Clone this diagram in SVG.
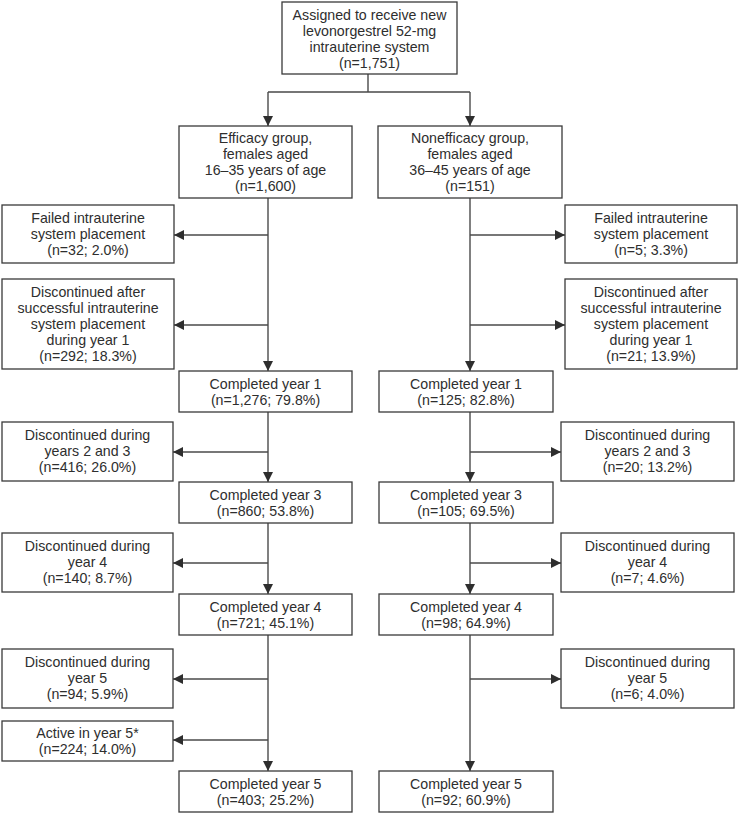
<svg xmlns="http://www.w3.org/2000/svg" width="738" height="813" viewBox="0 0 738 813">
<style>
.b{fill:#fff;stroke:#3a3a3a;stroke-width:1.3}
.t{font-family:"Liberation Sans",Arial,sans-serif;font-size:14.2px;fill:#2e2e2e;text-anchor:middle}
.c{fill:none;stroke:#4a4a4a;stroke-width:1.4}
</style>
<defs>
<marker id="ah" viewBox="0 0 10 10" refX="10" refY="5" markerWidth="10" markerHeight="10" markerUnits="userSpaceOnUse" orient="auto"><path d="M0,0 L10,5 L0,10 z" fill="#2e2e2e"/></marker>
</defs>
<rect width="738" height="813" fill="#fff"/>
<g id="connectors">
<path class="c" d="M368,74 V92 M268,92 H470"/>
<path class="c" d="M268,92 V126" marker-end="url(#ah)"/>
<path class="c" d="M470,92 V126" marker-end="url(#ah)"/>
<path class="c" d="M268,198 V371" marker-end="url(#ah)"/>
<path class="c" d="M268,235 H174" marker-end="url(#ah)"/>
<path class="c" d="M268,325 H174" marker-end="url(#ah)"/>
<path class="c" d="M268,412 V482" marker-end="url(#ah)"/>
<path class="c" d="M268,452 H173" marker-end="url(#ah)"/>
<path class="c" d="M268,523 V594" marker-end="url(#ah)"/>
<path class="c" d="M268,563 H173" marker-end="url(#ah)"/>
<path class="c" d="M268,635 V771" marker-end="url(#ah)"/>
<path class="c" d="M268,679 H173" marker-end="url(#ah)"/>
<path class="c" d="M268,740 H173" marker-end="url(#ah)"/>
<path class="c" d="M470,198 V371" marker-end="url(#ah)"/>
<path class="c" d="M470,235 H565" marker-end="url(#ah)"/>
<path class="c" d="M470,325 H565" marker-end="url(#ah)"/>
<path class="c" d="M470,412 V482" marker-end="url(#ah)"/>
<path class="c" d="M470,452 H561" marker-end="url(#ah)"/>
<path class="c" d="M470,523 V594" marker-end="url(#ah)"/>
<path class="c" d="M470,563 H561" marker-end="url(#ah)"/>
<path class="c" d="M470,635 V771" marker-end="url(#ah)"/>
<path class="c" d="M470,679 H561" marker-end="url(#ah)"/>
</g>
<g id="top"><rect class="b" x="282" y="2" width="175" height="72"/>
<text class="t" x="369.5" y="20">Assigned to receive new</text><text class="t" x="369.5" y="36">levonorgestrel 52-mg</text><text class="t" x="369.5" y="52">intrauterine system</text><text class="t" x="369.5" y="68">(n=1,751)</text></g>
<g id="efficacy"><rect class="b" x="179" y="126" width="173" height="72"/>
<text class="t" x="265.5" y="143">Efficacy group,</text><text class="t" x="265.5" y="159">females aged</text><text class="t" x="265.5" y="175">16–35 years of age</text><text class="t" x="265.5" y="191">(n=1,600)</text></g>
<g id="nonefficacy"><rect class="b" x="378" y="126" width="184" height="72"/>
<text class="t" x="470" y="143">Nonefficacy group,</text><text class="t" x="470" y="159">females aged</text><text class="t" x="470" y="175">36–45 years of age</text><text class="t" x="470" y="191">(n=151)</text></g>
<g id="failedL"><rect class="b" x="2" y="205" width="172" height="58"/>
<text class="t" x="88" y="223">Failed intrauterine</text><text class="t" x="88" y="239">system placement</text><text class="t" x="88" y="255">(n=32; 2.0%)</text></g>
<g id="discL1"><rect class="b" x="2" y="279" width="172" height="90"/>
<text class="t" x="88" y="297">Discontinued after</text><text class="t" x="88" y="313">successful intrauterine</text><text class="t" x="88" y="329">system placement</text><text class="t" x="88" y="345">during year 1</text><text class="t" x="88" y="361">(n=292; 18.3%)</text></g>
<g id="compL1"><rect class="b" x="179" y="371" width="173" height="41"/>
<text class="t" x="265.5" y="389">Completed year 1</text><text class="t" x="265.5" y="405">(n=1,276; 79.8%)</text></g>
<g id="discL23"><rect class="b" x="2" y="422" width="171" height="59"/>
<text class="t" x="87.5" y="440">Discontinued during</text><text class="t" x="87.5" y="456">years 2 and 3</text><text class="t" x="87.5" y="472">(n=416; 26.0%)</text></g>
<g id="compL3"><rect class="b" x="179" y="482" width="173" height="41"/>
<text class="t" x="265.5" y="500">Completed year 3</text><text class="t" x="265.5" y="516">(n=860; 53.8%)</text></g>
<g id="discL4"><rect class="b" x="2" y="533" width="171" height="59"/>
<text class="t" x="87.5" y="551">Discontinued during</text><text class="t" x="87.5" y="567">year 4</text><text class="t" x="87.5" y="583">(n=140; 8.7%)</text></g>
<g id="compL4"><rect class="b" x="179" y="594" width="173" height="41"/>
<text class="t" x="265.5" y="612">Completed year 4</text><text class="t" x="265.5" y="628">(n=721; 45.1%)</text></g>
<g id="discL5"><rect class="b" x="2" y="649" width="171" height="59"/>
<text class="t" x="87.5" y="667">Discontinued during</text><text class="t" x="87.5" y="683">year 5</text><text class="t" x="87.5" y="699">(n=94; 5.9%)</text></g>
<g id="activeL5"><rect class="b" x="2" y="721" width="171" height="40"/>
<text class="t" x="87.5" y="738">Active in year 5*</text><text class="t" x="87.5" y="754">(n=224; 14.0%)</text></g>
<g id="compL5"><rect class="b" x="179" y="771" width="173" height="41"/>
<text class="t" x="265.5" y="789">Completed year 5</text><text class="t" x="265.5" y="805">(n=403; 25.2%)</text></g>
<g id="failedR"><rect class="b" x="565" y="205" width="172" height="58"/>
<text class="t" x="651" y="223">Failed intrauterine</text><text class="t" x="651" y="239">system placement</text><text class="t" x="651" y="255">(n=5; 3.3%)</text></g>
<g id="discR1"><rect class="b" x="565" y="279" width="172" height="90"/>
<text class="t" x="651" y="297">Discontinued after</text><text class="t" x="651" y="313">successful intrauterine</text><text class="t" x="651" y="329">system placement</text><text class="t" x="651" y="345">during year 1</text><text class="t" x="651" y="361">(n=21; 13.9%)</text></g>
<g id="compR1"><rect class="b" x="379" y="371" width="174" height="41"/>
<text class="t" x="466" y="389">Completed year 1</text><text class="t" x="466" y="405">(n=125; 82.8%)</text></g>
<g id="discR23"><rect class="b" x="561" y="422" width="173" height="59"/>
<text class="t" x="647.5" y="440">Discontinued during</text><text class="t" x="647.5" y="456">years 2 and 3</text><text class="t" x="647.5" y="472">(n=20; 13.2%)</text></g>
<g id="compR3"><rect class="b" x="379" y="482" width="174" height="41"/>
<text class="t" x="466" y="500">Completed year 3</text><text class="t" x="466" y="516">(n=105; 69.5%)</text></g>
<g id="discR4"><rect class="b" x="561" y="533" width="173" height="59"/>
<text class="t" x="647.5" y="551">Discontinued during</text><text class="t" x="647.5" y="567">year 4</text><text class="t" x="647.5" y="583">(n=7; 4.6%)</text></g>
<g id="compR4"><rect class="b" x="379" y="594" width="174" height="41"/>
<text class="t" x="466" y="612">Completed year 4</text><text class="t" x="466" y="628">(n=98; 64.9%)</text></g>
<g id="discR5"><rect class="b" x="561" y="649" width="173" height="59"/>
<text class="t" x="647.5" y="667">Discontinued during</text><text class="t" x="647.5" y="683">year 5</text><text class="t" x="647.5" y="699">(n=6; 4.0%)</text></g>
<g id="compR5"><rect class="b" x="379" y="771" width="174" height="41"/>
<text class="t" x="466" y="789">Completed year 5</text><text class="t" x="466" y="805">(n=92; 60.9%)</text></g>
</svg>
